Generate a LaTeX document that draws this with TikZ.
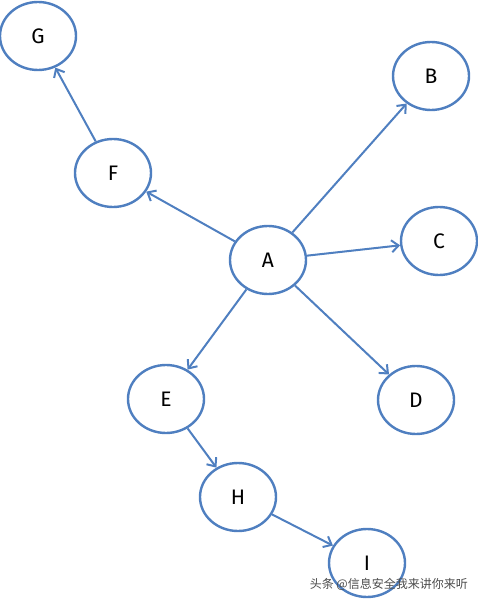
\documentclass[tikz,border=0pt]{standalone}
\usepackage{fontspec}
\setsansfont{Fira Sans}
\newfontfamily\cjk{Noto Sans CJK SC}
\usetikzlibrary{shapes.geometric,arrows.meta}
\definecolor{nodeblue}{HTML}{4F7FC0}
\tikzset{
  vert/.style={ellipse, draw=nodeblue, line width=2.4pt, fill=white,
    minimum width=76pt, minimum height=68pt, inner sep=0pt,
    font=\sffamily\fontsize{21}{21}\selectfont, text=black},
  edge/.style={draw=nodeblue, line width=2pt, -{Straight Barb[length=7pt,width=12pt,line width=2pt]}},
}
\begin{document}
\begin{tikzpicture}[x=1pt,y=-1pt]
\useasboundingbox (0,0) rectangle (478,601);
\node[vert] (G) at (38,36) {G};
\node[vert] (F) at (113,173) {F};
\node[vert] (A) at (268,260) {A};
\node[vert] (B) at (431,76) {B};
\node[vert] (C) at (439,241) {C};
\node[vert] (D) at (416,400) {D};
\node[vert] (E) at (166,399) {E};
\node[vert] (H) at (238,497) {H};
\node[vert] (I) at (367,563) {I};
\draw[edge] (A) -- (F);
\draw[edge] (A) -- (B);
\draw[edge] (A) -- (C);
\draw[edge] (A) -- (D);
\draw[edge] (A) -- (E);
\draw[edge] (F) -- (G);
\draw[edge] (E) -- (H);
\draw[edge] (H) -- (I);
\node[font=\cjk\fontsize{12}{12}\selectfont, text=black!70, anchor=east, inner sep=0pt] (wm) at (468,584) {头条 @信息安全我来讲你来听};
\end{tikzpicture}
\end{document}
